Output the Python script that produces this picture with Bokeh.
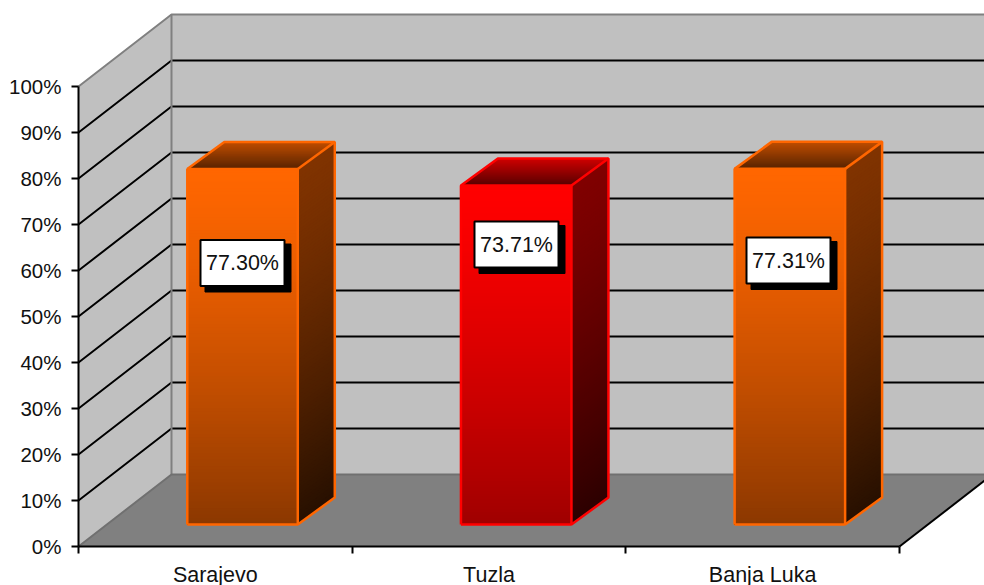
from bokeh.plotting import figure
from bokeh.models import Range1d, LinearAxis, FixedTicker
from bokeh.core.properties import value
from bokeh.embed import file_html
from bokeh.resources import INLINE
import numpy as np

cities = ["Sarajevo", "Tuzla", "Banja Luka"]
values = [77.30, 73.71, 77.31]
value_labels = ["77.30%", "73.71%", "77.31%"]
ticks = [0, 10, 20, 30, 40, 50, 60, 70, 80, 90, 100]

ORANGE = dict(edge="#FF6600", front=((255, 102, 0), (140, 56, 0)),
              side=((128, 51, 0), (40, 16, 0)), top=((90, 36, 0), (190, 76, 0)))
RED = dict(edge="#FF0000", front=((255, 0, 0), (160, 0, 0)),
           side=((128, 0, 0), (45, 0, 0)), top=((90, 0, 0), (205, 0, 0)))
schemes = [ORANGE, RED, ORANGE]
label_px_x = [242, 516, 788]   # label box centres
label_px_y = [262.5, 244, 260]

W, H = 984, 585
X0, X1, Y0, Y100 = 78, 899, 546, 86
PX = (X1 - X0) / 3
PY = (Y0 - Y100) / 100


def dx(px):
    return px / PX


def dy(px):
    return px / PY


p = figure(width=W, height=H, output_backend="svg", toolbar_location=None,
           x_range=Range1d(-X0 / PX, (W - X0) / PX),
           y_range=Range1d(-(H - Y0) / PY, Y0 / PY),
           min_border=0, x_axis_location=None, y_axis_location=None,
           margin=(0, 0, 0, 0), outline_line_color=None,
           background_fill_color="white", border_fill_color="white")
p.grid.visible = False

WALL_DX, WALL_DY = dx(93), dy(72)
GRAY = "#808080"
# side wall, back wall, floor
p.patch([0, WALL_DX, WALL_DX, 0], [0, WALL_DY, 100 + WALL_DY, 100], fill_color="#C0C0C0", line_color=None)
p.quad(left=WALL_DX, right=3 + WALL_DX, bottom=WALL_DY, top=100 + WALL_DY, fill_color="#C0C0C0", line_color=None)
p.patch([0, 3, 3 + WALL_DX, WALL_DX], [0, 0, WALL_DY, WALL_DY], fill_color=GRAY, line_color=None)
# grid lines
for t in ticks[1:-1]:
    p.line([0, WALL_DX, 3 + WALL_DX], [t, t + WALL_DY, t + WALL_DY], line_color="black", line_width=2)
# wall edges
p.line([0, WALL_DX, 3 + WALL_DX], [100, 100 + WALL_DY, 100 + WALL_DY], line_color=GRAY, line_width=2)
p.line([WALL_DX, WALL_DX], [WALL_DY, 100 + WALL_DY], line_color=GRAY, line_width=2)
p.line([0, WALL_DX, 3 + WALL_DX], [0, WALL_DY, WALL_DY], line_color="#707070", line_width=2)
p.line([3, 3 + WALL_DX], [0, WALL_DY], line_color="black", line_width=2)


def mix(c, t):
    a, b = c
    return "#%02x%02x%02x" % tuple(int(round(a[i] + (b[i] - a[i]) * t)) for i in range(3))


BW = dx(110.5)
OFFX, OFFY = dx(27.2), dy(22)
DEPX, DEPY = dx(37), dy(27)
N = 110
for i, (v, s) in enumerate(zip(values, schemes)):
    L = i + 0.5 - BW / 2 + OFFX
    R = L + BW
    B = OFFY
    T = B + v
    edges = np.linspace(T, B, N + 1)
    ts = np.linspace(0, 1, N) ** 1.3
    # front gradient: each band reaches to the base so that no seams show
    p.quad(left=[L] * N, right=[R] * N, top=edges[:-1], bottom=[B] * N,
           fill_color=[mix(s["front"], t) for t in ts], line_color=None)
    # side gradient
    p.patches([[R, R + DEPX, R + DEPX, R]] * N,
              [[edges[k], edges[k] + DEPY, B + DEPY, B] for k in range(N)],
              fill_color=[mix(s["side"], t) for t in ts], line_color=None)
    # top gradient
    M = 24
    fr = np.linspace(0, 1, M + 1)
    tt = np.linspace(0, 1, M)
    p.patches([[L + DEPX * fr[k], R + DEPX * fr[k], R + DEPX, L + DEPX] for k in range(M)],
              [[T + DEPY * fr[k], T + DEPY * fr[k], T + DEPY, T + DEPY] for k in range(M)],
              fill_color=[mix(s["top"], t) for t in tt], line_color=None)
    # outline
    p.line([L, L, R, R, L], [B, T, T, B, B], line_color=s["edge"], line_width=2.5)
    p.line([L, L + DEPX, R + DEPX, R + DEPX, R], [T, T + DEPY, T + DEPY, B + DEPY, B], line_color=s["edge"], line_width=2.5)
    p.line([R, R + DEPX], [T, T + DEPY], line_color=s["edge"], line_width=2.5)
    # data label
    cx = (label_px_x[i] - X0) / PX
    cy = (Y0 - label_px_y[i]) / PY
    p.rect([cx + dx(5.5)], [cy - dy(5)], width=dx(86), height=dy(48), fill_color="black", line_color="black")
    p.rect([cx], [cy], width=dx(84), height=dy(46), fill_color="white", line_color="black", line_width=2)
    p.text([cx], [cy], text=[value_labels[i]], text_align="center", text_baseline="middle",
           text_font=value("Liberation Sans"), text_font_size="21.5px", text_color="#111111")

# real axes
yax = LinearAxis(fixed_location=0, bounds=(0, 100), ticker=FixedTicker(ticks=ticks),
                 major_label_overrides={t: f"{t}%" for t in ticks},
                 major_tick_in=0, major_tick_out=7, minor_tick_line_color=None,
                 axis_line_width=2, major_tick_line_width=2, axis_line_color="black", major_tick_line_color="black",
                 major_label_text_font="Liberation Sans", major_label_text_font_size="20.5px",
                 major_label_text_color="#111111", major_label_standoff=10)
p.add_layout(yax, "left")
xax = LinearAxis(fixed_location=0, bounds=(0, 3), ticker=FixedTicker(ticks=[0, 1, 2, 3]),
                 major_label_text_color=None, major_label_text_font_size="1px",
                 major_tick_in=0, major_tick_out=7, minor_tick_line_color=None,
                 axis_line_width=2, major_tick_line_width=2, axis_line_color="black", major_tick_line_color="black")
p.add_layout(xax, "below")
cat = LinearAxis(fixed_location=0, ticker=FixedTicker(ticks=[0.5, 1.5, 2.5]),
                 major_label_overrides={i + 0.5: c for i, c in enumerate(cities)},
                 axis_line_color=None, major_tick_line_color=None, minor_tick_line_color=None,
                 major_label_text_font="Liberation Sans", major_label_text_font_size="21.5px",
                 major_label_text_color="#111111", major_label_standoff=10)
p.add_layout(cat, "below")

open("out.html", "w").write(file_html(p, INLINE))
